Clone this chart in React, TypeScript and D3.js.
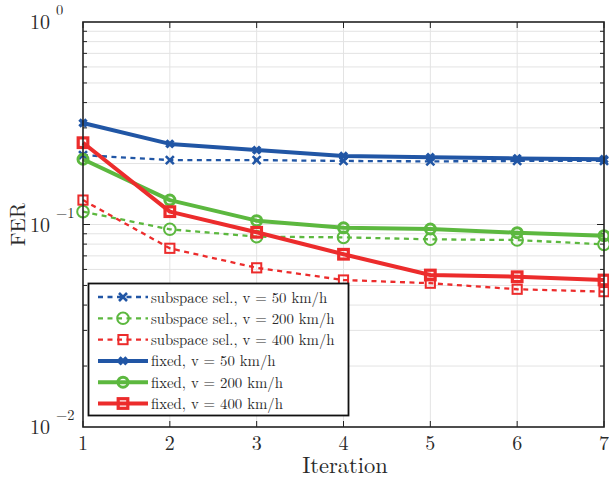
import React from 'react';
import * as d3 from 'd3';

const iterations = [1, 2, 3, 4, 5, 6, 7];
const subspace50 = [0.22, 0.208, 0.208, 0.206, 0.205, 0.206, 0.206];
const subspace200 = [0.1157, 0.0947, 0.0871, 0.0864, 0.0845, 0.0838, 0.0798];
const subspace400 = [0.132, 0.0763, 0.0611, 0.0532, 0.0513, 0.0479, 0.0466];
const fixed50 = [0.317, 0.25, 0.233, 0.218, 0.215, 0.212, 0.21];
const fixed200 = [0.21, 0.132, 0.1044, 0.0963, 0.095, 0.0911, 0.0881];
const fixed400 = [0.2535, 0.1157, 0.0915, 0.0713, 0.0563, 0.0552, 0.0532];
const yTickValues = [1, 0.1, 0.01];
const yTickExponents = ['0', '\u22121', '\u22122'];
const labels = [
  'subspace sel., v = 50 km/h',
  'subspace sel., v = 200 km/h',
  'subspace sel., v = 400 km/h',
  'fixed, v = 50 km/h',
  'fixed, v = 200 km/h',
  'fixed, v = 400 km/h',
];

const BLUE = '#2156a5';
const GREEN = '#5cb83f';
const RED = '#ec2c2c';

const series = [
  { values: subspace50, color: BLUE, marker: 'x', dashed: true },
  { values: subspace200, color: GREEN, marker: 'o', dashed: true },
  { values: subspace400, color: RED, marker: 's', dashed: true },
  { values: fixed50, color: BLUE, marker: 'x', dashed: false },
  { values: fixed200, color: GREEN, marker: 'o', dashed: false },
  { values: fixed400, color: RED, marker: 's', dashed: false },
];

const FONT = "'Latin Modern Roman', 'Liberation Serif', serif";
const INK = '#2a2a2a';

const left = 83, right = 604, top = 22, bottom = 427;
const x = d3.scaleLinear().domain([1, 7]).range([left, right]);
const y = d3.scaleLog().domain([0.01, 1]).range([bottom, top]);
const yGrid = y.ticks().filter(v => v > 0.01 && v < 1);
const line = d3.line<number>().x((d, i) => x(iterations[i])).y(d => y(d));

function Marker({ kind, cx, cy, color, solid }) {
  if (kind === 'x') {
    const s = solid ? 3.5 : 4;
    return (
      <path d={`M${cx - s},${cy - s}L${cx + s},${cy + s}M${cx - s},${cy + s}L${cx + s},${cy - s}`}
        stroke={color} strokeWidth={solid ? 3.4 : 2.6} fill="none" />
    );
  }
  if (kind === 'o') {
    return <circle cx={cx} cy={cy} r={solid ? 5 : 5.8} fill="none" stroke={color} strokeWidth={solid ? 3 : 2} />;
  }
  const s = solid ? 4.8 : 4.6;
  return <rect x={cx - s} y={cy - s} width={2 * s} height={2 * s} fill="none" stroke={color} strokeWidth={solid ? 3.2 : 2} />;
}

export default function App() {
  const t = (size) => ({ fontFamily: FONT, fontSize: size + 'px' });
  return (
    <svg width={609} height={479} style={{ position: 'absolute', left: 0, top: 0, display: 'block', background: 'white' }}>
      {/* grid */}
      <g stroke="#e3e3e3" strokeWidth={1}>
        {iterations.slice(1, -1).map(i => (
          <line key={'gx' + i} x1={x(i)} x2={x(i)} y1={top} y2={bottom} />
        ))}
        {yGrid.map(v => (
          <line key={'gy' + v} x1={left} x2={right} y1={y(v)} y2={y(v)} />
        ))}
      </g>

      {/* ticks */}
      <g stroke="#222" strokeWidth={1}>
        {iterations.map(i => (
          <g key={'tx' + i}>
            <line x1={x(i)} x2={x(i)} y1={bottom} y2={bottom - 6} />
            <line x1={x(i)} x2={x(i)} y1={top} y2={top + 6} />
          </g>
        ))}
        {yGrid.map(v => {
          const len = Math.abs(v - 0.1) < 1e-9 ? 7 : 4;
          return (
            <g key={'ty' + v}>
              <line x1={left} x2={left + len} y1={y(v)} y2={y(v)} />
              <line x1={right} x2={right - len} y1={y(v)} y2={y(v)} />
            </g>
          );
        })}
      </g>

      {/* series */}
      {series.map((s, k) => (
        <g key={'s' + k}>
          <path d={line(s.values)} fill="none" stroke={s.color}
            strokeWidth={s.dashed ? 2.3 : 4} strokeDasharray={s.dashed ? '5,4.5' : undefined}
            strokeLinejoin="round" />
          {s.values.map((v, i) => (
            <Marker key={i} kind={s.marker} cx={x(iterations[i])} cy={y(v)} color={s.color} solid={!s.dashed} />
          ))}
        </g>
      ))}

      {/* frame */}
      <rect x={left} y={top} width={right - left} height={bottom - top} fill="none" stroke="#222" strokeWidth={1.6} />

      {/* x tick labels */}
      {iterations.map(i => (
        <text key={'lx' + i} x={x(i)} y={450} textAnchor="middle" fill={INK} style={t(20)}>{i}</text>
      ))}

      {/* y tick labels */}
      {yTickValues.map((v, k) => (
        <g key={'ly' + v}>
          <text x={50} y={y(v) + 7} textAnchor="end" fill={INK} style={t(20)}>10</text>
          <text x={56} y={y(v) - 7} fill={INK} style={t(14.5)}>{yTickExponents[k]}</text>
        </g>
      ))}

      {/* axis titles */}
      <text x={345} y={473} textAnchor="middle" fill={INK} style={t(22.5)}>Iteration</text>
      <text transform={`translate(25,${(top + bottom) / 2}) rotate(-90)`} textAnchor="middle" fill={INK} style={t(21)}>FER</text>

      {/* legend */}
      <g>
        <rect x={88.5} y={283.5} width={260} height={132} fill="white" stroke="#111" strokeWidth={1.8} />
        {series.map((s, i) => {
          const yy = 297 + i * 21.3;
          return (
            <g key={'lg' + i}>
              <line x1={98} x2={148} y1={yy} y2={yy} stroke={s.color}
                strokeWidth={s.dashed ? 2.3 : 4} strokeDasharray={s.dashed ? '5,4.5' : undefined} />
              <Marker kind={s.marker} cx={123} cy={yy} color={s.color} solid={!s.dashed} />
              <text x={151} y={yy + 5.5} fill={INK} style={t(14.8)}>{labels[i]}</text>
            </g>
          );
        })}
      </g>
    </svg>
  );
}
